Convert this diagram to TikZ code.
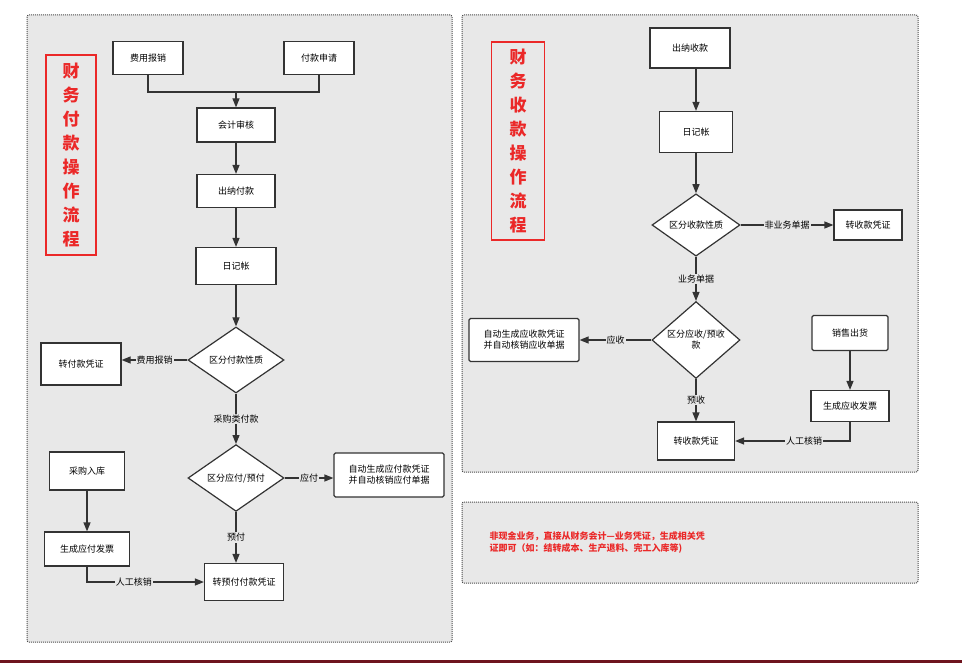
\documentclass[tikz,border=0pt]{standalone}
\usepackage{fontspec}
\setmainfont{Noto Sans CJK SC}
\usetikzlibrary{shapes.geometric, arrows.meta}
\definecolor{panel}{RGB}{232,232,232}
\definecolor{titlered}{RGB}{235,40,40}
\definecolor{barred}{RGB}{110,20,30}
\tikzstyle{block} = [rectangle, draw=black!80, line width=1.2pt, fill=white, text centered, font=\fontsize{9}{11}\selectfont, inner sep=2pt]
\tikzstyle{block2} = [block, rounded corners=1.5pt, align=center]
\tikzstyle{choix} = [diamond, draw=black!80, line width=1.2pt, fill=white, text centered, align=center, font=\fontsize{9}{11}\selectfont, inner sep=0pt]
\tikzstyle{titre} = [rectangle, draw=titlered, line width=1.2pt, text=titlered, font=\fontsize{17}{24}\selectfont\bfseries, align=center, inner sep=0pt]
\tikzstyle{lab} = [fill=panel, font=\fontsize{9}{11}\selectfont, inner sep=1pt]
\tikzstyle{cadre} = [draw=black!70, densely dotted, line width=1pt, fill=panel, rounded corners=2pt]
\tikzstyle{arrow} = [line width=1.2pt, draw=black!80, -{Stealth[length=9pt, width=7pt, inset=0pt]}]
\tikzstyle{line} = [line width=1.2pt, draw=black!80]
\begin{document}
\begin{tikzpicture}[x=1pt, y=-1pt]
        \useasboundingbox[fill=white] (0,0) rectangle (962,663);
        \fill[barred] (0,660) rectangle (962,663);
        \draw[cadre] (27,15) rectangle (452,642);
        \draw[cadre] (462,15) rectangle (918,472);
        \draw[cadre] (462,502) rectangle (918,583);

        % left panel
        \node (titre1) [titre, minimum width=50pt, minimum height=200pt] at (71,155) {财\\务\\付\\款\\操\\作\\流\\程};
        \node (bx1) [block, minimum width=70pt, minimum height=33pt] at (148,58) {费用报销};
        \node (bx2) [block, minimum width=70pt, minimum height=33pt] at (319,58) {付款申请};
        \coordinate (join1) at (236,92);
        \node (bx3) [block, minimum width=78pt, minimum height=34pt] at (236,125) {会计审核};
        \node (bx4) [block, minimum width=78pt, minimum height=33pt] at (236,191) {出纳付款};
        \node (bx5) [block, minimum width=80pt, minimum height=37pt] at (236,266) {日记帐};
        \node (dec1) [choix, minimum width=96pt, minimum height=66pt] at (236,360) {区分付款性质};
        \node (bx6) [block, minimum width=80pt, minimum height=42pt] at (81,364) {转付款凭证};
        \node (dec2) [choix, minimum width=96pt, minimum height=62pt] at (236,478) {区分应付/预付};
        \node (bx7) [block2, minimum width=110pt, minimum height=44pt] at (389,475) {自动生成应付款凭证\\并自动核销应付单据};
        \node (bx8) [block, minimum width=75pt, minimum height=38pt] at (87,471) {采购入库};
        \node (bx9) [block, minimum width=85pt, minimum height=34pt] at (87,549) {生成应付发票};
        \node (bx10) [block, minimum width=79pt, minimum height=37pt] at (244,582) {转预付付款凭证};

        \draw [line] (bx1.south) |- (join1);
        \draw [line] (bx2.south) |- (join1);
        \draw [arrow] (join1) -- (bx3);
        \draw [arrow] (bx3) -- (bx4);
        \draw [arrow] (bx4) -- (bx5);
        \draw [arrow] (bx5) -- (dec1);
        \draw [arrow] (dec1.west) -- node[lab] {费用报销} (dec1.west -| bx6.east);
        \draw [arrow] (dec1) -- node[lab] {采购类付款} (dec2);
        \draw [arrow] (dec2.east) -- node[lab] {应付} (dec2.east -| bx7.west);
        \draw [arrow] (dec2.south) -- node[lab, pos=0.5] {预付} (dec2.south |- bx10.north);
        \draw [arrow] (bx8) -- (bx9);
        \draw [arrow] (bx9.south) |- node[lab, pos=0.7] {人工核销} (bx10.west);

        % right panel
        \node (titre2) [titre, minimum width=53pt, minimum height=198pt] at (518,141) {财\\务\\收\\款\\操\\作\\流\\程};
        \node (rb1) [block, minimum width=80pt, minimum height=40pt] at (690,48) {出纳收款};
        \node (rb2) [block, minimum width=73pt, minimum height=41pt] at (696,132) {日记帐};
        \node (rdec1) [choix, minimum width=88pt, minimum height=62pt] at (696,225) {区分收款性质};
        \node (rb3) [block, minimum width=68pt, minimum height=30pt] at (868,225) {转收款凭证};
        \node (rdec2) [choix, minimum width=88pt, minimum height=64pt] at (696,340) {区分应收/预收\\款};
        \node (rb4) [block2, minimum width=110pt, minimum height=43pt] at (524,340) {自动生成应收款凭证\\并自动核销应收单据};
        \node (rb5) [block, minimum width=77pt, minimum height=38pt] at (696,441) {转收款凭证};
        \node (rb6) [block2, minimum width=76pt, minimum height=35pt] at (850,333) {销售出货};
        \node (rb7) [block, minimum width=78pt, minimum height=31pt] at (850,406) {生成应收发票};

        \draw [arrow] (rb1.south -| rb2.north) -- (rb2);
        \draw [arrow] (rb2) -- (rdec1);
        \draw [arrow] (rdec1) -- node[lab] {非业务单据} (rb3);
        \draw [arrow] (rdec1) -- node[lab] {业务单据} (rdec2);
        \draw [arrow] (rdec2) -- node[lab] {应收} (rb4);
        \draw [arrow] (rdec2) -- node[lab] {预收} (rb5);
        \draw [arrow] (rb6) -- (rb7);
        \draw [arrow] (rb7.south) |- node[lab, pos=0.7] {人工核销} (rb5.east);

        % note
        \node (note) [anchor=west, text=titlered, align=left, font=\fontsize{9}{12}\selectfont\bfseries] at (486,542) {非现金业务，直接从财务会计—业务凭证，生成相关凭\\证即可（如：结转成本、生产退料、完工入库等)};
\end{tikzpicture}
\end{document}
